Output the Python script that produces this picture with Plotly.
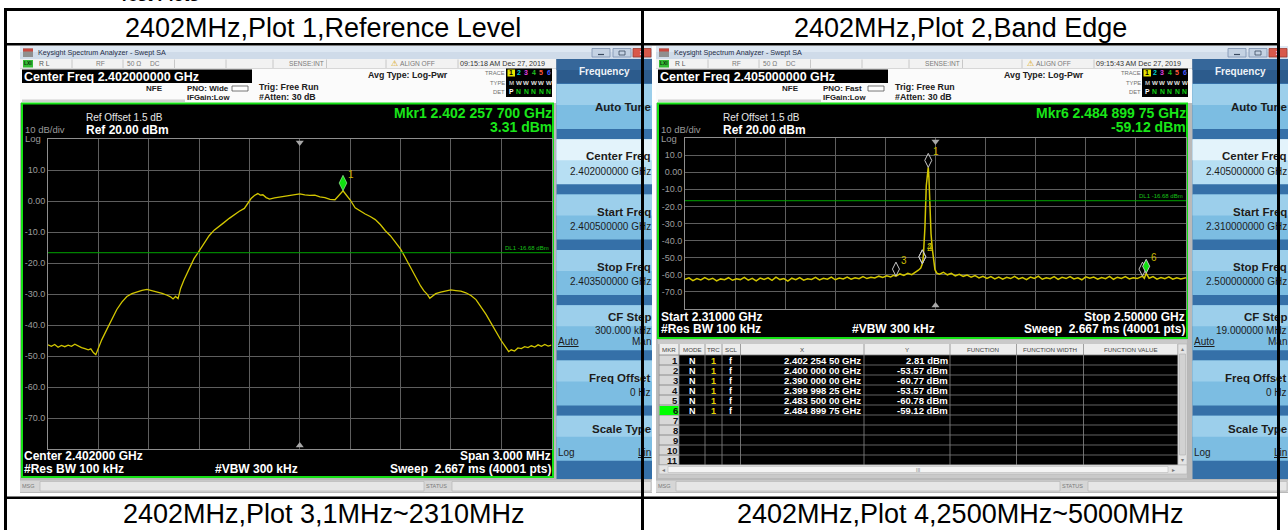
import plotly.graph_objects as go

# ------------------------------------------------------------------ data
TITLES_TOP = ["2402MHz,Plot 1,Reference Level", "2402MHz,Plot 2,Band Edge"]
TITLES_BOTTOM = ["2402MHz,Plot 3,1MHz~2310MHz", "2402MHz,Plot 4,2500MHz~5000MHz"]

REF_LEVEL_DBM = 20.0
DB_PER_DIV = 10
DL1_DBM = -16.68
Y_TICKS = [10, 0, -10, -20, -30, -40, -50, -60, -70]
Y_TICK_LABELS = ["10.0", "0.00", "-10.0", "-20.0", "-30.0", "-40.0", "-50.0", "-60.0", "-70.0"]

# Plot 1 : reference level (span 3 MHz)
P1_START_GHZ, P1_STOP_GHZ, P1_CENTER_GHZ = 2.4005, 2.4035, 2.402
P1_FREQ_MHZ = [
    2400.500, 2400.520, 2400.540, 2400.560, 2400.580, 2400.600, 2400.620, 2400.640, 2400.660,
    2400.680, 2400.700, 2400.720, 2400.740, 2400.755, 2400.770, 2400.785, 2400.800, 2400.820,
    2400.850, 2400.880, 2400.910, 2400.940, 2400.970, 2401.000, 2401.030, 2401.060, 2401.090,
    2401.120, 2401.150, 2401.180, 2401.210, 2401.230, 2401.245, 2401.260, 2401.275, 2401.290,
    2401.310, 2401.340, 2401.370, 2401.400, 2401.430, 2401.460, 2401.490, 2401.520, 2401.550,
    2401.580, 2401.610, 2401.640, 2401.670, 2401.690, 2401.710, 2401.730, 2401.750, 2401.765,
    2401.780, 2401.800, 2401.820, 2401.850, 2401.880, 2401.910, 2401.940, 2401.970, 2402.000,
    2402.030, 2402.060, 2402.090, 2402.120, 2402.150, 2402.180, 2402.210, 2402.240, 2402.258,
    2402.275, 2402.300, 2402.330, 2402.360, 2402.390, 2402.420, 2402.450, 2402.480, 2402.510,
    2402.540, 2402.570, 2402.600, 2402.630, 2402.660, 2402.690, 2402.720, 2402.740, 2402.760,
    2402.775, 2402.790, 2402.810, 2402.840, 2402.870, 2402.900, 2402.930, 2402.960, 2402.990,
    2403.020, 2403.050, 2403.080, 2403.110, 2403.140, 2403.170, 2403.200, 2403.225, 2403.245,
    2403.260, 2403.280, 2403.300, 2403.320, 2403.340, 2403.360, 2403.380, 2403.400, 2403.420,
    2403.440, 2403.460, 2403.480, 2403.500]
P1_LEVEL_DBM = [
    -46.4, -46.9, -46.3, -47.2, -46.6, -47.0, -46.5, -46.9, -46.2,
    -46.8, -47.3, -47.6, -48.0, -47.7, -48.9, -49.6, -47.3, -44.8,
    -41.5, -38.2, -35.0, -32.6, -30.8, -29.9, -29.3, -28.8, -28.5,
    -28.9, -29.4, -29.8, -30.4, -30.9, -31.6, -30.8, -31.5, -28.2,
    -25.5, -22.0, -18.6, -16.2, -13.6, -11.2, -9.4, -8.0, -6.9,
    -5.6, -4.4, -3.3, -2.4, -0.9, 0.8, 1.8, 2.4, 1.9,
    2.0, 1.1, 0.6, 1.0, 1.3, 1.5, 1.7, 2.0, 2.3,
    2.0, 1.8, 1.9, 1.3, 1.1, 0.5, 0.4, 2.3, 3.3,
    2.1, 0.4, -2.2, -3.3, -4.2, -5.0, -6.0, -7.6, -9.6,
    -11.2, -13.2, -15.4, -18.4, -21.5, -24.6, -27.4, -29.0, -30.1,
    -31.4, -30.7, -29.9, -29.4, -29.0, -28.7, -28.9, -29.1, -29.6,
    -30.5, -31.8, -34.0, -36.6, -39.4, -42.3, -45.0, -47.0, -48.6,
    -48.0, -48.4, -47.4, -47.6, -47.0, -47.3, -46.7, -47.1, -46.4,
    -46.9, -46.3, -46.8, -46.5]
P1_MKR_FREQ_GHZ = 2.4022577
P1_MKR_LEVEL_DBM = 3.31

# Plot 2 : band edge (2.31 - 2.50 GHz)
P2_START_GHZ, P2_STOP_GHZ, P2_CENTER_GHZ = 2.31, 2.50, 2.405
P2_FREQ_MHZ = [
    2310.0, 2311.5, 2313.0, 2314.5, 2316.0, 2317.5, 2319.0, 2320.5, 2322.0, 2323.5, 2325.0,
    2326.5, 2328.0, 2329.5, 2331.0, 2332.5, 2334.0, 2335.5, 2337.0, 2338.5, 2340.0, 2341.5,
    2343.0, 2344.5, 2346.0, 2347.5, 2349.0, 2350.5, 2352.0, 2353.5, 2355.0, 2356.5, 2358.0,
    2359.5, 2361.0, 2362.5, 2364.0, 2365.5, 2367.0, 2368.5, 2370.0, 2371.5, 2373.0, 2374.5,
    2376.0, 2377.5, 2379.0, 2380.5, 2382.0, 2383.5, 2385.0, 2386.5, 2388.0, 2389.0, 2390.0,
    2391.5, 2393.0, 2394.5, 2396.0, 2397.5, 2398.5, 2399.4, 2400.0, 2400.4, 2401.0, 2401.5,
    2402.0, 2402.25, 2402.5, 2402.9, 2403.3, 2403.8, 2404.3, 2404.8, 2405.5, 2406.5, 2408.0,
    2409.5, 2411.0, 2412.5, 2414.0, 2415.5, 2417.0, 2418.5, 2420.0, 2421.5, 2423.0, 2424.5,
    2426.0, 2427.5, 2429.0, 2430.5, 2432.0, 2433.5, 2435.0, 2436.5, 2438.0, 2439.5, 2441.0,
    2442.5, 2444.0, 2445.5, 2447.0, 2448.5, 2450.0, 2451.5, 2453.0, 2454.5, 2456.0, 2457.5,
    2459.0, 2460.5, 2462.0, 2463.5, 2465.0, 2466.5, 2468.0, 2469.5, 2471.0, 2472.5, 2474.0,
    2475.5, 2477.0, 2478.5, 2480.0, 2481.5, 2483.5, 2484.2, 2484.9, 2486.0, 2487.5, 2489.0,
    2490.5, 2492.0, 2493.5, 2495.0, 2496.5, 2498.0, 2500.0]
P2_LEVEL_DBM = [
    -62.6, -61.8, -63.4, -62.2, -63.0, -61.6, -62.8, -62.0, -63.6, -62.4, -62.9,
    -61.7, -63.2, -62.3, -62.8, -61.5, -63.1, -62.1, -63.5, -61.9, -62.7, -61.8,
    -63.3, -61.4, -62.8, -62.2, -63.7, -62.0, -62.9, -61.6, -63.1, -62.3, -62.7,
    -61.5, -63.0, -62.1, -62.6, -61.4, -62.9, -61.9, -62.4, -61.3, -62.6, -61.7,
    -62.3, -61.1, -62.2, -61.4, -61.9, -60.8, -61.6, -60.6, -61.3, -60.3, -60.77,
    -59.5, -60.4, -59.1, -59.9, -58.6, -57.3, -56.0, -53.57, -49.0, -32.0, -8.0,
    1.5, 2.81, -3.0, -20.0, -36.0, -45.0, -52.0, -57.0, -59.0, -59.6, -58.5,
    -60.0, -59.1, -60.6, -59.7, -60.9, -60.2, -61.4, -60.5, -61.8, -60.9, -62.1,
    -61.1, -62.4, -61.3, -62.5, -61.5, -62.2, -60.9, -62.4, -61.6, -62.8, -61.3,
    -62.1, -60.8, -62.6, -61.7, -62.3, -61.1, -62.7, -61.5, -62.2, -61.0, -62.4,
    -61.8, -62.9, -61.2, -62.0, -61.3, -62.5, -61.6, -62.3, -60.9, -62.6, -61.4,
    -62.1, -61.1, -62.4, -61.7, -62.2, -60.78, -62.0, -59.12, -62.0, -61.0, -62.5,
    -61.6, -62.3, -61.2, -62.6, -61.8, -62.4, -61.7]

MKR_NUM = [1, 2, 3, 4, 5, 6]
MKR_MODE = ["N", "N", "N", "N", "N", "N"]
MKR_TRC = [1, 1, 1, 1, 1, 1]
MKR_SCL = ["f", "f", "f", "f", "f", "f"]
MKR_FREQ_GHZ = [2.4022545, 2.400, 2.390, 2.39999825, 2.4835, 2.48489975]
MKR_LEVEL_DBM = [2.81, -53.57, -60.77, -53.57, -60.78, -59.12]
ACTIVE_MKR = 6

# ------------------------------------------------------------------ helpers
W, H = 1288, 530
FONT = "Liberation Sans, Arial, sans-serif"
shapes, anns = [], []


def fx(x):
    return x / W


def fy(y):
    return 1 - y / H


def rect(x0, y0, x1, y1, fill, lc=None, lw=0, layer="below"):
    shapes.append(dict(type="rect", xref="paper", yref="paper",
                       x0=fx(x0), x1=fx(x1), y0=fy(y1), y1=fy(y0),
                       fillcolor=fill, layer=layer,
                       line=dict(color=lc if lc else "rgba(0,0,0,0)", width=lw)))


def hline(x0, x1, y, color, w=1, layer="below"):
    shapes.append(dict(type="line", xref="paper", yref="paper",
                       x0=fx(x0), x1=fx(x1), y0=fy(y), y1=fy(y),
                       line=dict(color=color, width=w), layer=layer))


def vline(x, y0, y1, color, w=1, layer="below"):
    shapes.append(dict(type="line", xref="paper", yref="paper",
                       x0=fx(x), x1=fx(x), y0=fy(y0), y1=fy(y1),
                       line=dict(color=color, width=w), layer=layer))


def text(x, y, s, size=8, color="#000000", anchor="left", bold=False, bg=None, yanchor="middle"):
    d = dict(xref="paper", yref="paper", x=fx(x), y=fy(y),
             text=f"<b>{s}</b>" if bold else s, showarrow=False,
             xanchor=anchor, yanchor=yanchor, borderpad=0, borderwidth=0,
             font=dict(size=size, color=color, family=FONT))
    if bg:
        d["bgcolor"] = bg
    anns.append(d)


def ghz_grouped(f, decimals):
    s = f"{f:.{decimals}f}"
    ip, dp = s.split(".")
    groups = [dp[i:i + 3] for i in range(0, len(dp), 3)]
    return ip + "." + " ".join(groups)


# ------------------------------------------------------------------ window chrome
def window(X0, time_s, center_s, pno_s, keys, frame_box):
    r = lambda v: X0 + v
    rect(X0, 46, r(632), 493, "#b9b9b9")
    # title bar
    rect(X0, 46, r(632), 59, "#cfdbe9")
    rect(X0, 46, r(632), 52, "#dde7f2")
    rect(r(3), 48.5, r(13), 57, "#8f8f8f")
    rect(r(3), 48.5, r(13), 51.5, "#c9483f")
    text(r(18), 53, "Keysight Spectrum Analyzer - Swept SA", 7.2, "#1f2d47")
    rect(r(572), 48.5, r(590), 57, "#c4d2e3", "#7b91ae", 0.8)
    hline(r(578), r(584), 54.5, "#3a4a60", 1.2)
    rect(r(593), 48.5, r(611), 57, "#c4d2e3", "#7b91ae", 0.8)
    rect(r(599), 51, r(605), 55, "rgba(0,0,0,0)", "#3a4a60", 0.8)
    rect(r(613), 48.5, r(631), 57, "#d8584a", "#9a3a30", 0.8)
    text(r(622), 52.8, "x", 7, "#ffffff", "center", True)
    # status row
    rect(X0, 59, r(536.5), 68.5, "#f2f2f2")
    hline(X0, r(536.5), 68.5, "#a8a8a8", 0.8)
    for dv in [52, 103, 154.5, 206, 253, 306.5, 366, 438]:
        vline(r(dv), 59.5, 68, "#bdbdbd", 0.8)
    rect(r(3), 60, r(13), 67.5, "#33bb33")
    text(r(8), 63.8, "LXI", 4.8, "#0b2a0b", "center", True)
    text(r(19), 63.7, "R L", 6.8, "#555555")
    text(r(76), 63.7, "RF", 6.6, "#7a7a7a")
    text(r(107), 63.7, "50 Ω", 6.6, "#7a7a7a")
    text(r(130), 63.7, "DC", 6.6, "#7a7a7a")
    text(r(269), 63.7, "SENSE:INT", 6.6, "#7a7a7a")
    text(r(371), 63.5, "⚠", 8, "#d6a000")
    text(r(380), 63.7, "ALIGN OFF", 6.6, "#7a7a7a")
    text(r(440), 63.7, time_s, 7.2, "#333333")
    # info area
    rect(X0, 68.5, r(536.5), 103, "#fbfbfb")
    rect(r(2), 69.5, r(232), 83, "#000000")
    text(r(4), 77, center_s, 12.5, "#ffffff", bold=True)
    rect(r(2), 99.5, r(165), 102, "#cfcfcf")
    text(r(126), 89, "NFE", 8, "#202020", bold=True)
    text(r(167), 89, pno_s, 8, "#202020", bold=True)
    rect(r(212), 86, r(228), 91, "#ffffff", "#555555", 0.8)
    text(r(167), 97.5, "IFGain:Low", 7.8, "#202020", bold=True)
    text(r(239), 86.5, "Trig: Free Run", 8.8, "#202020", bold=True)
    text(r(239), 97, "#Atten: 30 dB", 8.8, "#202020", bold=True)
    text(r(347.5), 75, "Avg Type: Log-Pwr", 8.8, "#202020", bold=True)
    text(r(485), 72.5, "TRACE", 5.8, "#707070", "right")
    text(r(485), 82.5, "TYPE", 5.8, "#707070", "right")
    text(r(485), 92, "DET", 5.8, "#707070", "right")
    rect(r(486), 68.5, r(532), 97, "#000000")
    rect(r(487.5), 69.5, r(495), 76.5, "#e6e600")
    tcols = ["#000000", "#00d0d0", "#e040e0", "#20c020", "#ff5a3c", "#4a5cff"]
    for i in range(6):
        cx = r(491.3 + i * 7.5)
        text(cx, 73, str(i + 1), 7, tcols[i], "center", True)
        text(cx, 82.5, "M" if i == 0 else "W", 6.2, "#bdbdbd" if i == 0 else "#e0e0e0", "center", True)
        text(cx, 92, "P" if i == 0 else "N", 6.8, "#ffffff" if i == 0 else "#12d012", "center", True)
    # softkey panel
    rect(r(536.5), 59, r(632), 83, "#2c5b8c")
    rect(r(536.5), 59, r(632), 70, "#36679a")
    text(r(584), 71.5, "Frequency", 10, "#eef3f8", "center", True)
    rect(r(536.5), 83, r(632), 479, "#3570a8")
    for i, k in enumerate(keys):
        t = 83 + i * 55.3
        sel = (i == 1)
        rect(r(536.5), t + 1, r(632), t + 46, "#b7dff3" if sel else "#7cbde2")
        rect(r(536.5), t + 1, r(632), t + 22, "#e3f3fb" if sel else "#9ccfeb")
        kind = k[0]
        if kind == "single":
            text(r(630.5), t + 24, k[1], 11.5, "#1c1c1c", "right", True)
        elif kind == "value":
            text(r(630.5), t + 18, k[1], 11.5, "#1c1c1c", "right", True)
            text(r(630.5), t + 33, k[2], 10, "#1c1c1c", "right")
        elif kind == "automan":
            text(r(630.5), t + 13, k[1], 11.5, "#1c1c1c", "right", True)
            text(r(630.5), t + 26, k[2], 10, "#1c1c1c", "right")
            text(r(538), t + 37, "<u>Auto</u>", 10, "#1c1c1c")
            text(r(630.5), t + 37, "Man", 10, "#1c1c1c", "right")
        elif kind == "loglin":
            text(r(630.5), t + 14, k[1], 11.5, "#1c1c1c", "right", True)
            text(r(538), t + 38, "Log", 10, "#1c1c1c")
            text(r(630.5), t + 38, "<u>Lin</u>", 10, "#1c1c1c", "right")
    # message bar
    rect(X0, 480.5, r(632), 492, "#d6d6d6")
    rect(r(20), 481.5, r(404), 491, "#e6e6e6", "#b0b0b0", 0.6)
    rect(r(432), 481.5, r(631), 491, "#e6e6e6", "#b0b0b0", 0.6)
    text(r(2), 486, "MSG", 5.5, "#7a7a7a")
    text(r(406), 486, "STATUS", 5.5, "#7a7a7a")
    # graph frame
    fx0, fy0, fx1, fy1 = frame_box
    rect(fx0, fy0, fx1, fy1, "#000000", "#14e014", 2)


def freq_keys(center, start, stop, step):
    return [("single", "Auto Tune"),
            ("value", "Center Freq", f"{center:.9f} GHz"),
            ("value", "Start Freq", f"{start:.9f} GHz"),
            ("value", "Stop Freq", f"{stop:.9f} GHz"),
            ("automan", "CF Step", step),
            ("value", "Freq Offset", "0 Hz"),
            ("loglin", "Scale Type")]


L_X0, R_X0 = 20, 656
P1_BOX = (48, 139, 551.5, 449)      # plot area px (x0, ytop, x1, ybottom)
P2_BOX = (685, 138, 1186, 309)

window(L_X0, "09:15:18 AM Dec 27, 2019", f"Center Freq {P1_CENTER_GHZ:.9f} GHz", "PNO: Wide",
       freq_keys(P1_CENTER_GHZ, P1_START_GHZ, P1_STOP_GHZ, "300.000 kHz"), (22, 103.5, 553, 477))
window(R_X0, "09:15:43 AM Dec 27, 2019", f"Center Freq {P2_CENTER_GHZ:.9f} GHz", "PNO: Fast",
       freq_keys(P2_CENTER_GHZ, P2_START_GHZ, P2_STOP_GHZ, "19.000000 MHz"), (658, 103.5, 1187, 338))


# graph header / footer texts
def graph_texts(X0, box, mkr_label, mkr_val, lines_bottom, ref_x):
    x0, yt, x1, yb = box
    text(ref_x, 118, "Ref Offset 1.5 dB", 10, "#e6e6e6")
    text(ref_x, 129.5, "Ref 20.00 dBm", 12, "#ffffff", bold=True)
    text(X0 + 5, 130, f"{DB_PER_DIV} dB/div", 9.5, "#9a9a9a")
    text(X0 + 5, 138.5, "Log", 9.5, "#9a9a9a")
    text(x1, 113, mkr_label, 14, "#19e619", "right", True)
    text(x1, 126.5, mkr_val, 14, "#19e619", "right", True)
    for (x, y, s, a) in lines_bottom:
        text(x, y, s, 12, "#ffffff", a, True)


graph_texts(L_X0, P1_BOX, f"Mkr1 {ghz_grouped(P1_MKR_FREQ_GHZ, 9)} GHz", f"{P1_MKR_LEVEL_DBM:.2f} dBm",
            [(24, 456, f"Center {P1_CENTER_GHZ:.6f} GHz", "left"),
             (551, 456, f"Span {(P1_STOP_GHZ - P1_START_GHZ) * 1000:.3f} MHz", "right"),
             (24, 468.5, "#Res BW 100 kHz", "left"),
             (215, 468.5, "#VBW 300 kHz", "left"),
             (551, 468.5, "Sweep  2.667 ms (40001 pts)", "right")], 86)
a = MKR_NUM.index(ACTIVE_MKR)
graph_texts(R_X0, P2_BOX, f"Mkr{ACTIVE_MKR} {ghz_grouped(MKR_FREQ_GHZ[a], 8)} GHz", f"{MKR_LEVEL_DBM[a]:.2f} dBm",
            [(661, 317, f"Start {P2_START_GHZ:.5f} GHz", "left"),
             (1185, 317, f"Stop {P2_STOP_GHZ:.5f} GHz", "right"),
             (661, 329, "#Res BW 100 kHz", "left"),
             (852, 329, "#VBW 300 kHz", "left"),
             (1185, 329, "Sweep  2.667 ms (40001 pts)", "right")], 723)

# ------------------------------------------------------------------ marker table (plot 2 window)
rect(658, 340, 1187, 478, "#c9c9c9")
cols = [659, 679, 705, 722, 740.5, 864, 950, 1016.5, 1083.5, 1178]
rect(659, 344, 1178, 355, "#ececec")
rect(659, 355, 1178, 465, "#000000")
rect(659, 355, 679, 465, "#d8d8d8")
heads = ["MKR", "MODE", "TRC", "SCL", "X", "Y", "FUNCTION", "FUNCTION WIDTH", "FUNCTION VALUE"]
for i, h in enumerate(heads):
    text((cols[i] + cols[i + 1]) / 2, 349.5, h, 6.2, "#444444", "center")
for c in cols:
    vline(c, 344, 465, "#8c8c8c", 0.8)
for k in range(12):
    hline(659, 1178, 355 + 10 * k, "#7c7c7c", 0.8)
for k in range(11):
    yc = 360.5 + 10 * k
    n = k + 1
    if n in MKR_NUM:
        j = MKR_NUM.index(n)
        if n == ACTIVE_MKR:
            rect(659.5, yc - 4.5, 678.5, yc + 4.5, "#00ff00")
        text(677.5, yc, str(n), 9.5, "#111111", "right", True)
        text(692, yc, MKR_MODE[j], 9, "#ffffff", "center", True)
        text(713.5, yc, str(MKR_TRC[j]), 9, "#e2d200", "center", True)
        text(731, yc, MKR_SCL[j], 9, "#ffffff", "center", True)
        text(860.5, yc, f"{ghz_grouped(MKR_FREQ_GHZ[j], 8)} GHz", 9.5, "#ffffff", "right", True)
        text(947.5, yc, f"{MKR_LEVEL_DBM[j]:.2f} dBm", 9.5, "#ffffff", "right", True)
    else:
        text(677.5, yc, str(n), 9.5, "#111111", "right", True)
# scrollbars
rect(1178, 344, 1187, 465, "#e4e4e4", "#b4b4b4", 0.6)
rect(1179.5, 354, 1185.5, 455, "#d2d2d2", "#b0b0b0", 0.6)
text(1182.5, 349, "▴", 6, "#777777", "center")
text(1182.5, 460, "▾", 6, "#777777", "center")
rect(659, 465, 1187, 474, "#e4e4e4", "#b4b4b4", 0.6)
rect(668, 466.5, 1168, 472.5, "#f4f4f4", "#b8b8b8", 0.6)
text(663, 469.5, "◂", 6, "#777777", "center")
text(1173, 469.5, "▸", 6, "#777777", "center")
text(918, 469.5, "III", 5, "#777777", "center")

# ------------------------------------------------------------------ document table
text(119, 4.5, "<b>Test Plots</b>", 17, "#000000", yanchor="bottom")
hline(4, 1280, 9.5, "#000000", 3, "above")
hline(4, 1280, 44.3, "#000000", 2.5, "above")
hline(4, 1280, 497.8, "#000000", 2.5, "above")
vline(5.5, 8, 530, "#000000", 3, "above")
text(323, 27.5, TITLES_TOP[0], 27)
text(960, 27.5, TITLES_TOP[1], 27)
text(323, 513.5, TITLES_BOTTOM[0], 27)
text(960, 513.5, TITLES_BOTTOM[1], 27)
for a_ in anns[-4:]:
    a_["xanchor"] = "center"

# ------------------------------------------------------------------ figure / axes
fig = go.Figure()


def add_axes(idx, box, start, stop):
    x0, yt, x1, yb = box
    sfx = "" if idx == 1 else str(idx)
    ax = dict(domain=[fx(x0), fx(x1)], range=[start, stop],
              tickvals=[start + k * (stop - start) / 10 for k in range(1, 10)],
              showticklabels=False, ticks="", showgrid=True, gridcolor="#5e5e5e", gridwidth=1,
              showline=True, mirror=True, linecolor="#8e8e8e", linewidth=1,
              zeroline=False, fixedrange=True, anchor="y" + sfx)
    ay = dict(domain=[fy(yb), fy(yt)], range=[REF_LEVEL_DBM - 10 * DB_PER_DIV, REF_LEVEL_DBM],
              tickvals=Y_TICKS, ticktext=Y_TICK_LABELS, ticks="",
              tickfont=dict(size=9, color="#9c9c9c", family=FONT),
              showgrid=True, gridcolor="#5e5e5e", gridwidth=1,
              showline=True, mirror=True, linecolor="#8e8e8e", linewidth=1,
              zeroline=False, fixedrange=True, anchor="x" + sfx)
    fig.update_layout(**{"xaxis" + sfx: ax, "yaxis" + sfx: ay})


add_axes(1, P1_BOX, P1_START_GHZ, P1_STOP_GHZ)
add_axes(2, P2_BOX, P2_START_GHZ, P2_STOP_GHZ)


def px_per_db(box):
    return (box[3] - box[1]) / (10 * DB_PER_DIV)


def plot_traces(xa, ya, box, fmhz, lvl, start, stop, center, lw):
    fig.add_trace(go.Scatter(x=[f / 1000 for f in fmhz], y=lvl, mode="lines", xaxis=xa, yaxis=ya,
                             line=dict(color="#d2c600", width=lw), hoverinfo="skip"))
    fig.add_trace(go.Scatter(x=[start, stop], y=[DL1_DBM, DL1_DBM], mode="lines", xaxis=xa, yaxis=ya,
                             line=dict(color="#00a400", width=1), hoverinfo="skip"))
    d = 3.5 / px_per_db(box)
    fig.add_trace(go.Scatter(x=[center, center],
                             y=[REF_LEVEL_DBM - d, REF_LEVEL_DBM - 10 * DB_PER_DIV + d],
                             mode="markers", xaxis=xa, yaxis=ya, cliponaxis=False,
                             marker=dict(symbol=["triangle-down", "triangle-up"], size=7, color="#a8a8a8"),
                             hoverinfo="skip"))
    anns.append(dict(xref=xa, yref=ya, x=stop, y=DL1_DBM, text=f"DL1 {DL1_DBM:.2f} dBm",
                     showarrow=False, xanchor="right", yanchor="bottom", xshift=-1, yshift=0,
                     font=dict(size=6, color="#18c018", family=FONT)))


plot_traces("x", "y", P1_BOX, P1_FREQ_MHZ, P1_LEVEL_DBM, P1_START_GHZ, P1_STOP_GHZ, P1_CENTER_GHZ, 1.3)
plot_traces("x2", "y2", P2_BOX, P2_FREQ_MHZ, P2_LEVEL_DBM, P2_START_GHZ, P2_STOP_GHZ, P2_CENTER_GHZ, 1.5)

# markers (diamond sits on top of the measured point)
off1 = 7.7 / px_per_db(P1_BOX)
fig.add_trace(go.Scatter(x=[P1_MKR_FREQ_GHZ], y=[P1_MKR_LEVEL_DBM + off1], mode="markers",
                         xaxis="x", yaxis="y", cliponaxis=False, hoverinfo="skip",
                         marker=dict(symbol="diamond-tall", size=11, color="#10e010",
                                     line=dict(color="#b0ffb0", width=0.6))))
anns.append(dict(xref="x", yref="y", x=P1_MKR_FREQ_GHZ, y=P1_MKR_LEVEL_DBM, text="1", showarrow=False,
                 xanchor="center", yanchor="middle", xshift=8, yshift=16,
                 font=dict(size=10, color="#c8b800", family=FONT)))

off2 = 7.0 / px_per_db(P2_BOX)
mx = [f for f in MKR_FREQ_GHZ]
my = [v + off2 for v in MKR_LEVEL_DBM]
fill = ["#10e010" if n == ACTIVE_MKR else "rgba(0,0,0,0)" for n in MKR_NUM]
fig.add_trace(go.Scatter(x=mx, y=my, mode="markers", xaxis="x2", yaxis="y2", cliponaxis=False,
                         hoverinfo="skip",
                         marker=dict(symbol="diamond-tall", size=10, color=fill,
                                     line=dict(color="#c8c8c8", width=1))))
for n, f, v in zip(MKR_NUM, MKR_FREQ_GHZ, MKR_LEVEL_DBM):
    if n == 5:
        continue
    anns.append(dict(xref="x2", yref="y2", x=f, y=v, text=str(n), showarrow=False,
                     xanchor="center", yanchor="middle", xshift=8, yshift=16,
                     font=dict(size=10, color="#c8b800", family=FONT)))

# column divider and right border drawn over everything
for xline, wline in [(642.2, 2.6), (1278.5, 3)]:
    anns.append(dict(xref="paper", yref="paper", x=fx(xline), y=fy(8), text=" ", showarrow=False,
                     xanchor="center", yanchor="top", width=wline, height=530, bgcolor="#000000",
                     borderpad=0, borderwidth=0, font=dict(size=1)))

fig.update_layout(width=W, height=H, margin=dict(l=0, r=0, t=0, b=0),
                  paper_bgcolor="#ffffff", plot_bgcolor="rgba(0,0,0,0)",
                  showlegend=False, shapes=shapes, annotations=anns)

fig.write_html("out.html", config={"displayModeBar": False},
               post_script="document.body.style.margin='0';document.body.style.padding='0';")
